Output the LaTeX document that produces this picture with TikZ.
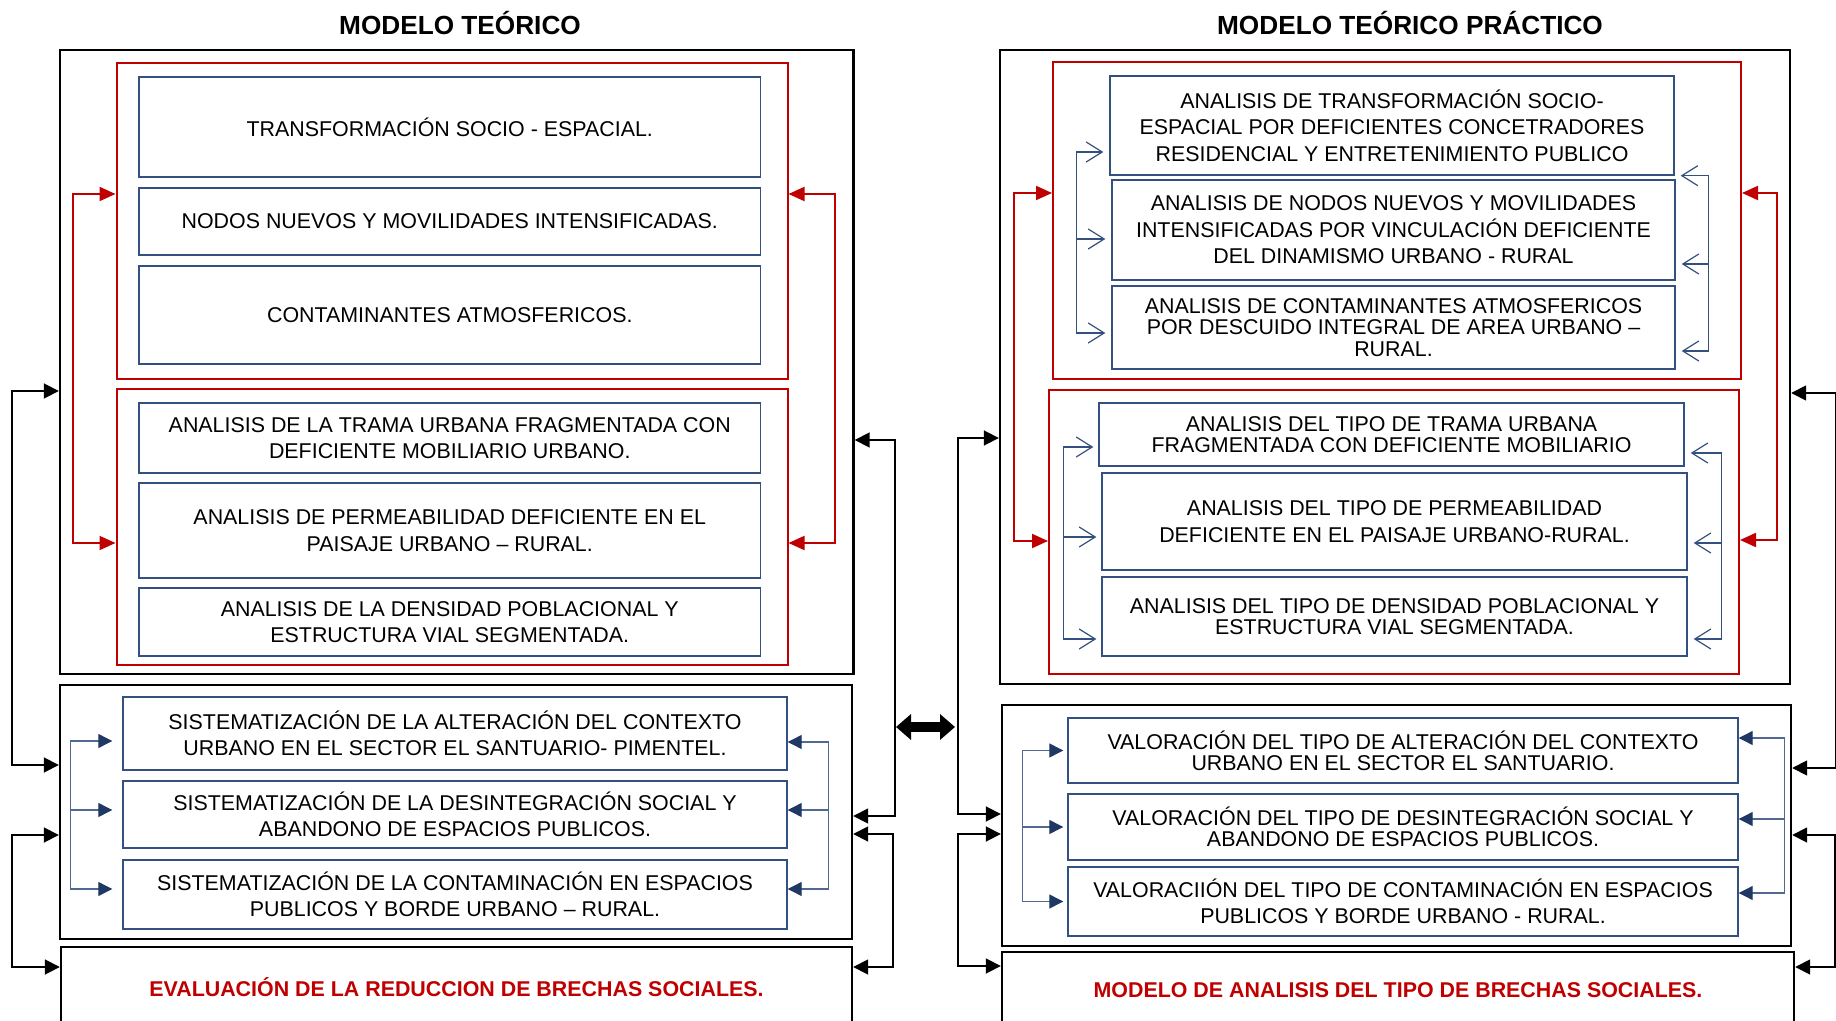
\documentclass[tikz,border=0pt]{standalone}
\usepackage{fontspec}
\setmainfont{Liberation Sans}
\usetikzlibrary{arrows.meta}
\definecolor{darkred}{RGB}{192,0,0}
\definecolor{cellline}{RGB}{52,80,128}
\definecolor{navy}{RGB}{31,56,100}
\definecolor{slate}{RGB}{80,104,146}

\begin{document}
\begin{tikzpicture}[x=0.5pt, y=-0.5pt,
        panel/.style={rectangle, draw, line width=1.2pt, inner sep=0pt},
        frame/.style={rectangle, draw=darkred, line width=1pt, inner sep=0pt},
        cell/.style={rectangle, draw=cellline, line width=0.7pt, align=center, inner sep=2pt, font=\fontsize{10.7}{13.2}\selectfont},
        tight/.style={font=\fontsize{10.7}{10.6}\selectfont},
        head/.style={font=\fontsize{13.1}{15}\selectfont\bfseries},
        foot/.style={panel, text=darkred, font=\fontsize{10.7}{13}\selectfont\bfseries},
        link/.style={line width=0.9pt, {Triangle[length=7.5pt,width=7.5pt]}-{Triangle[length=7.5pt,width=7.5pt]}},
        feed/.style={darkred, line width=1pt, {Triangle[length=8pt,width=7pt]}-{Triangle[length=8pt,width=7pt]}},
        flow/.style={slate, line width=0.6pt, -{Triangle[length=7pt,width=7pt,color=navy]}},
        hollow/.style={cellline, line width=0.6pt, -{Straight Barb[length=8pt,width=10pt]}},
        swap/.style={line width=5pt, {Triangle[length=7.5pt,width=12.5pt]}-{Triangle[length=7.5pt,width=12.5pt]}}
    ]
        \useasboundingbox (0,0) rectangle (1836,1021);
        \clip (0,0) rectangle (1836,1021);

        \node[head] (ltitle) at (460,23) {MODELO TEÓRICO};
        \node[head] (rtitle) at (1410,23) {MODELO TEÓRICO PRÁCTICO};

        \node[panel, minimum width=396.75pt, minimum height=312pt] (lmain) at (456.75,362) {};
        \node[panel, minimum width=396pt, minimum height=127pt] (lsys) at (456,812) {};
        \node[foot, minimum width=395.5pt, minimum height=40pt] (lfoot) at (456.5,987) {EVALUACIÓN DE LA REDUCCION DE BRECHAS SOCIALES.};

        \node[frame, minimum width=335.5pt, minimum height=158pt] (lred1) at (452,221) {};
        \node[frame, minimum width=335.5pt, minimum height=138pt] (lred2) at (452,527) {};

        \node[cell, minimum width=310.75pt, minimum height=50pt] (lt1) at (449.75,127) {TRANSFORMACIÓN SOCIO - ESPACIAL.};
        \node[cell, minimum width=310.75pt, minimum height=33.5pt] (lt2) at (449.75,221.5) {NODOS NUEVOS Y MOVILIDADES INTENSIFICADAS.};
        \node[cell, minimum width=310.75pt, minimum height=49pt] (lt3) at (449.75,315) {CONTAMINANTES ATMOSFERICOS.};

        \node[cell, minimum width=310.75pt, minimum height=35pt] (la1) at (449.75,438) {ANALISIS DE LA TRAMA URBANA FRAGMENTADA CON\\
        DEFICIENTE MOBILIARIO URBANO.};
        \node[cell, minimum width=310.75pt, minimum height=47.5pt] (la2) at (449.75,530.5) {ANALISIS DE PERMEABILIDAD DEFICIENTE EN EL\\
        PAISAJE URBANO – RURAL.};
        \node[cell, minimum width=310.75pt, minimum height=34pt] (la3) at (449.75,622) {ANALISIS DE LA DENSIDAD POBLACIONAL Y\\
        ESTRUCTURA VIAL SEGMENTADA.};

        \node[cell, minimum width=332pt, minimum height=36.5pt] (ls1) at (455,733.5) {SISTEMATIZACIÓN DE LA ALTERACIÓN DEL CONTEXTO\\
        URBANO EN EL SECTOR EL SANTUARIO- PIMENTEL.};
        \node[cell, minimum width=332pt, minimum height=33.5pt] (ls2) at (455,814.5) {SISTEMATIZACIÓN DE LA DESINTEGRACIÓN SOCIAL Y\\
        ABANDONO DE ESPACIOS PUBLICOS.};
        \node[cell, minimum width=332pt, minimum height=34.5pt] (ls3) at (455,894.5) {SISTEMATIZACIÓN DE LA CONTAMINACIÓN EN ESPACIOS\\
        PUBLICOS Y BORDE URBANO – RURAL.};

        \node[panel, minimum width=395pt, minimum height=317pt] (rmain) at (1395,367) {};
        \node[panel, minimum width=394.5pt, minimum height=120.5pt] (rval) at (1396.5,825.5) {};
        \node[foot, minimum width=396pt, minimum height=38pt] (rfoot) at (1398,990) {MODELO DE ANALISIS DEL TIPO DE BRECHAS SOCIALES.};

        \node[frame, minimum width=344pt, minimum height=158.5pt] (rred1) at (1397,220.5) {};
        \node[frame, minimum width=345pt, minimum height=142pt] (rred2) at (1394,532) {};

        \node[cell, minimum width=282pt, minimum height=49.5pt] (rt1) at (1392,125.5) {ANALISIS DE TRANSFORMACIÓN SOCIO-\\
        ESPACIAL POR DEFICIENTES CONCETRADORES\\
        RESIDENCIAL Y ENTRETENIMIENTO PUBLICO};
        \node[cell, minimum width=281.5pt, minimum height=50pt] (rt2) at (1393.5,230) {ANALISIS DE NODOS NUEVOS Y MOVILIDADES\\
        INTENSIFICADAS POR VINCULACIÓN DEFICIENTE\\
        DEL DINAMISMO URBANO - RURAL};
        \node[cell, tight, minimum width=281.5pt, minimum height=41.5pt] (rt3) at (1393.5,327.5) {ANALISIS DE CONTAMINANTES ATMOSFERICOS\\
        POR DESCUIDO INTEGRAL DE AREA URBANO –\\
        RURAL.};

        \node[cell, tight, minimum width=292.5pt, minimum height=31.5pt] (ra1) at (1391.5,434.5) {ANALISIS DEL TIPO DE TRAMA URBANA\\
        FRAGMENTADA CON DEFICIENTE MOBILIARIO};
        \node[cell, minimum width=292.5pt, minimum height=48.5pt] (ra2) at (1394.5,521.5) {ANALISIS DEL TIPO DE PERMEABILIDAD\\
        DEFICIENTE EN EL PAISAJE URBANO-RURAL.};
        \node[cell, tight, minimum width=292.5pt, minimum height=39.5pt] (ra3) at (1394.5,616.5) {ANALISIS DEL TIPO DE DENSIDAD POBLACIONAL Y\\
        ESTRUCTURA VIAL SEGMENTADA.};

        \node[cell, tight, minimum width=335pt, minimum height=32.5pt] (rv1) at (1403,750.5) {VALORACIÓN DEL TIPO DE ALTERACIÓN DEL CONTEXTO\\
        URBANO EN EL SECTOR EL SANTUARIO.};
        \node[cell, tight, minimum width=335pt, minimum height=33pt] (rv2) at (1403,827) {VALORACIÓN DEL TIPO DE DESINTEGRACIÓN SOCIAL Y\\
        ABANDONO DE ESPACIOS PUBLICOS.};
        \node[cell, minimum width=335pt, minimum height=34.5pt] (rv3) at (1403,901.5) {VALORACIIÓN DEL TIPO DE CONTAMINACIÓN EN ESPACIOS\\
        PUBLICOS Y BORDE URBANO - RURAL.};

        \draw[feed] ([yshift=13.5pt]lred1.west) -- ++(-43,0) |- ([yshift=-8pt]lred2.west);
        \draw[feed] ([yshift=13.5pt]lred1.east) -- ++(46,0) |- ([yshift=-8pt]lred2.east);
        \draw[feed] ([yshift=13.75pt]rred1.west) -- ++(-38,0) |- ([yshift=-4.5pt]rred2.west);
        \draw[feed] ([yshift=13.75pt]rred1.east) -- ++(35,0) |- ([yshift=-4pt]rred2.east);

        \draw[flow, shorten >=5pt] ([yshift=2.75pt]ls3.west) ++(-52,0) |- ([yshift=-3.75pt]ls1.west);
        \draw[flow, shorten >=5pt] ([yshift=2.75pt]ls3.west) ++(-52,0) -- ([yshift=2.75pt]ls3.west);
        \draw[flow, shorten >=5pt] ([yshift=2.25pt]ls2.west) ++(-52,0) -- ([yshift=2.25pt]ls2.west);
        \draw[flow] ([yshift=2.75pt]ls3.east) ++(41,0) |- ([yshift=-4.25pt]ls1.east);
        \draw[flow] ([yshift=2.75pt]ls3.east) ++(41,0) -- ([yshift=2.75pt]ls3.east);
        \draw[flow] ([yshift=2.25pt]ls2.east) ++(41,0) -- ([yshift=2.25pt]ls2.east);

        \draw[flow, shorten >=2pt] (rv3.west) ++(-45,0) |- (rv1.west);
        \draw[flow, shorten >=2pt] (rv3.west) ++(-45,0) -- (rv3.west);
        \draw[flow, shorten >=2pt] (rv2.west) ++(-45,0) -- (rv2.west);
        \draw[flow] ([yshift=4.25pt]rv3.east) ++(46,0) |- ([yshift=6.25pt]rv1.east);
        \draw[flow] ([yshift=4.25pt]rv3.east) ++(46,0) -- ([yshift=4.25pt]rv3.east);
        \draw[flow] ([yshift=4pt]rv2.east) ++(46,0) -- ([yshift=4pt]rv2.east);

        \draw[hollow, shorten >=3pt] ([yshift=-2.75pt]rt3.west) ++(-35,0) |- ([yshift=-13.25pt]rt1.west);
        \draw[hollow, shorten >=3pt] ([yshift=-2.75pt]rt3.west) ++(-35,0) -- ([yshift=-2.75pt]rt3.west);
        \draw[hollow, shorten >=3pt] ([yshift=-4.5pt]rt2.west) ++(-35,0) -- ([yshift=-4.5pt]rt2.west);
        \draw[hollow, shorten >=3pt] ([yshift=-11.75pt]rt3.east) ++(33,0) |- (rt1.south east);
        \draw[hollow, shorten >=3pt] ([yshift=-11.75pt]rt3.east) ++(33,0) -- ([yshift=-11.75pt]rt3.east);
        \draw[hollow, shorten >=3pt] ([yshift=-17pt]rt2.east) ++(33,0) -- ([yshift=-17pt]rt2.east);

        \draw[hollow, shorten >=2.5pt] ([yshift=-11.25pt]ra3.west) ++(-38,0) |- ([yshift=-6.25pt]ra1.west);
        \draw[hollow, shorten >=2.5pt] ([yshift=-11.25pt]ra3.west) ++(-38,0) -- ([yshift=-11.25pt]ra3.west);
        \draw[hollow, shorten >=2.5pt] ([yshift=-7.75pt]ra2.west) ++(-38,0) -- ([yshift=-7.75pt]ra2.west);
        \draw[hollow, shorten >=3pt] ([yshift=-11.25pt]ra3.east) ++(34,0) |- ([yshift=-9.25pt]ra1.east);
        \draw[hollow, shorten >=3pt] ([yshift=-11.25pt]ra3.east) ++(34,0) -- ([yshift=-11.25pt]ra3.east);
        \draw[hollow, shorten >=3pt] ([yshift=-10.75pt]ra2.east) ++(34,0) -- ([yshift=-10.75pt]ra2.east);

        \draw[link] ([yshift=-14.5pt]lmain.west) -- ++(-47,0) |- ([yshift=23.5pt]lsys.west);
        \draw[link] ([yshift=-11.5pt]lsys.west) -- ++(-47,0) |- ([yshift=10pt]lfoot.west);
        \draw[link] ([yshift=-39pt]lmain.east) -- ++(40,0) |- ([yshift=-2pt]lsys.east);
        \draw[link] ([yshift=-11pt]lsys.east) -- ++(40,0) |- ([yshift=10pt]lfoot.east);
        \draw[link] ([yshift=-35.5pt]rmain.west) -- ++(-41,0) |- ([yshift=5.75pt]rval.west);
        \draw[link] ([yshift=-4.25pt]rval.west) -- ++(-43,0) |- ([yshift=12pt]rfoot.west);
        \draw[link] ([yshift=-13pt]rmain.east) -- ++(45,0) |- ([yshift=28.75pt]rval.east);
        \draw[link] ([yshift=-4.75pt]rval.east) -- ++(43,0) |- ([yshift=11.5pt]rfoot.east);

        \coordinate (sl) at (896,727);
        \coordinate (sr) at (955,727);
        \draw[swap] (sl) -- (sr);
    \end{tikzpicture}
\end{document}
